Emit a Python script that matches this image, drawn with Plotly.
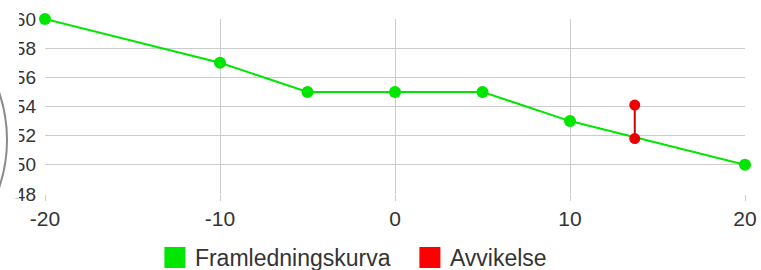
import plotly.graph_objects as go

# Data
curve_x = [-20, -10, -5, 0, 5, 10, 20]
curve_y = [60, 57, 55, 55, 55, 53, 50]
dev_x = [13.7, 13.7]
dev_y = [51.8, 54.1]
x_ticks = [-20, -10, 0, 10, 20]
x_labels = ["-20", "-10", "0", "10", "20"]
y_ticks = [48, 50, 52, 54, 56, 58, 60]
y_labels = ["48", "50", "52", "54", "56", "58", "60"]
names = ["Framledningskurva", "Avvikelse"]

GREEN = "#00e600"
RED = "#ee0000"
FONT = "Liberation Sans, Arial, sans-serif"

fig = go.Figure()
fig.add_trace(go.Scatter(
    x=curve_x, y=curve_y, mode="lines+markers",
    line=dict(color=GREEN, width=2),
    marker=dict(color=GREEN, size=12),
    showlegend=False, cliponaxis=False))
fig.add_trace(go.Scatter(
    x=dev_x, y=dev_y, mode="lines+markers",
    line=dict(color="#cc0000", width=2),
    marker=dict(color=RED, size=11),
    showlegend=False, cliponaxis=False))
# legend entries
fig.add_trace(go.Scatter(
    x=[None], y=[None], mode="markers", name=names[0],
    marker=dict(symbol="square", size=16, color=GREEN,
                line=dict(color=GREEN, width=5))))
fig.add_trace(go.Scatter(
    x=[None], y=[None], mode="markers", name=names[1],
    marker=dict(symbol="square", size=16, color="#ff0000",
                line=dict(color="#ff0000", width=5))))

# partial arc at the left edge (cropped element)
fig.add_shape(type="circle", xref="paper", yref="paper", layer="above",
              xsizemode="pixel", ysizemode="pixel", xanchor=0, yanchor=0,
              x0=-334, x1=-38, y0=-94, y1=202,
              line=dict(color="#8a8a8a", width=2))

# the reference is cropped: the left part of the y labels is hidden
fig.add_annotation(xref="paper", yref="paper", x=(14 - 45) / 700, y=0.55,
                   xanchor="center", yanchor="middle", text=".",
                   font=dict(color="white", size=8),
                   width=10, height=200, bgcolor="white", borderpad=0,
                   borderwidth=0, showarrow=False)

fig.update_layout(
    width=761, height=270,
    margin=dict(l=45, r=16, t=19, b=76, autoexpand=False),
    paper_bgcolor="white", plot_bgcolor="white",
    font=dict(family=FONT, color="#333333"),
    showlegend=True,
    legend=dict(orientation="h", x=0.157, xanchor="left", y=-0.24,
                yanchor="top", font=dict(size=23, color="#333333"),
                entrywidth=210, entrywidthmode="pixels",
                bgcolor="rgba(0,0,0,0)"),
    xaxis=dict(range=[-20, 20], tickvals=x_ticks, ticktext=x_labels,
               showgrid=True, automargin=False,
               gridcolor="#cccccc", gridwidth=1, zeroline=False,
               showline=False, ticks="outside", ticklen=6,
               tickcolor="#cccccc", tickfont=dict(size=21, color="#333333")),
    yaxis=dict(range=[48, 60], tickvals=y_ticks, ticktext=y_labels,
               showgrid=True, automargin=False,
               gridcolor="#cccccc", gridwidth=1, zeroline=False,
               showline=False, ticks="", ticklabelstandoff=8,
               tickfont=dict(size=19, color="#333333")),
)

fig.write_html("out.html", config={"displayModeBar": False},
               post_script="document.body.style.margin='0';document.body.style.overflow='hidden';")
